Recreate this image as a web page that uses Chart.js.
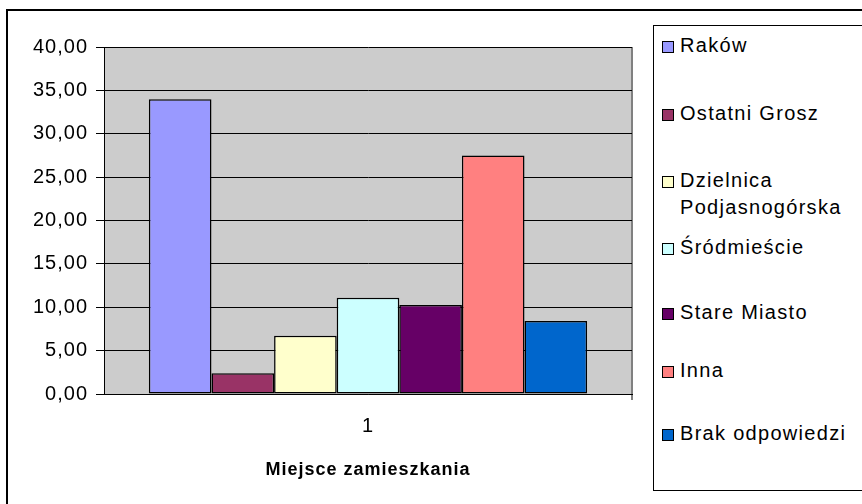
<!DOCTYPE html>
<html>
<head>
<meta charset="utf-8">
<script src="https://cdn.jsdelivr.net/npm/chart.js@4.4.1/dist/chart.umd.min.js"></script>
<style>
  html, body { margin:0; padding:0; background:#fff; }
  body { width:862px; height:504px; position:relative; overflow:hidden; font-family:"Liberation Sans", Arial, sans-serif; }
  #frame { position:absolute; left:6px; top:9px; width:900px; height:520px; border:2px solid #000; box-sizing:border-box; }
  #wrap { position:absolute; left:0; top:0; width:862px; height:504px; }
  #legend { position:absolute; left:653px; top:25px; width:240px; height:466px; border:1px solid #000; box-sizing:border-box; background:#fff; }
  .item { position:absolute; left:8px; font-size:20px; line-height:27px; letter-spacing:1.3px; color:#000; white-space:nowrap; }
  .sw { position:absolute; left:0; top:9px; width:10px; height:10px; border:1px solid #000; }
  .txt { position:absolute; left:18px; top:0; }
</style>
</head>
<body>
<div id="frame"></div>
<div id="wrap"><canvas id="c" width="862" height="504"></canvas></div>
<div id="legend"></div>
<script>
// Data
const categories = ["1"];
const seriesNames = ["Raków", "Ostatni Grosz", "Dzielnica Podjasnogórska", "Śródmieście", "Stare Miasto", "Inna", "Brak odpowiedzi"];
const legendLines = [["Raków"], ["Ostatni Grosz"], ["Dzielnica", "Podjasnogórska"], ["Śródmieście"], ["Stare Miasto"], ["Inna"], ["Brak odpowiedzi"]];
const seriesValues = [33.97, 2.39, 6.72, 11.10, 10.26, 27.50, 8.41];
const seriesColors = ["#9999FF", "#993366", "#FFFFCC", "#CCFFFF", "#660066", "#FF8080", "#0066CC"];
const yTicks = [0, 5, 10, 15, 20, 25, 30, 35, 40];
const xTitle = "Miejsce zamieszkania";

const FONT = "'Liberation Sans', Arial, sans-serif";

const datasets = seriesNames.map((n, i) => ({
  label: n,
  data: [seriesValues[i]],
  backgroundColor: seriesColors[i],
  borderColor: "#000",
  borderWidth: 1.5,
  borderSkipped: false,
  categoryPercentage: 0.83,
  barPercentage: 1.0
}));

const spacing = {
  id: "spacing",
  beforeUpdate(chart) { chart.ctx.letterSpacing = "1px"; },
  beforeLayout(chart) { chart.ctx.letterSpacing = "1px"; },
  beforeDraw(chart) { chart.ctx.letterSpacing = "1px"; }
};

const plotBg = {
  id: "plotBg",
  beforeDraw(chart) {
    const { ctx, chartArea: a } = chart;
    ctx.save();
    ctx.fillStyle = "#CCCCCC";
    ctx.fillRect(a.left, a.top, a.right - a.left, a.bottom - a.top);
    ctx.strokeStyle = "#808080";
    ctx.lineWidth = 2;
    ctx.beginPath();
    ctx.moveTo(a.right, a.top);
    ctx.lineTo(a.right, a.bottom + 6);
    ctx.stroke();
    ctx.restore();
  }
};

new Chart(document.getElementById("c"), {
  type: "bar",
  data: { labels: categories, datasets },
  options: {
    responsive: false,
    animation: false,
    layout: { padding: { top: 47, right: 230, left: 0, bottom: 0 } },
    plugins: { legend: { display: false }, tooltip: { enabled: false }, title: { display: false } },
    scales: {
      x: {
        grid: { display: false, drawTicks: false },
        border: { display: true, color: "#000", width: 1 },
        ticks: { color: "#000", font: { family: FONT, size: 20 }, padding: 20 },
        title: { display: true, text: xTitle, color: "#000", font: { family: FONT, size: 18, weight: "bold" }, padding: { top: 14, bottom: 23 } },
        afterFit(s) { s.height = 110; }
      },
      y: {
        min: 0, max: 40,
        afterBuildTicks(s) { s.ticks = yTicks.map(v => ({ value: v })); },
        grid: { color: "#000", lineWidth: 1, tickLength: 8, tickColor: "#000" },
        border: { display: true, color: "#000", width: 1 },
        ticks: {
          color: "#000", font: { family: FONT, size: 20 }, padding: 8,
          callback: v => v.toFixed(2).replace(".", ",")
        },
        afterFit(s) { s.width = 104; }
      }
    }
  },
  plugins: [spacing, plotBg]
});

// HTML legend
const legendTops = [6, 74, 141, 208, 273, 331, 394];
const lg = document.getElementById("legend");
legendLines.forEach((lines, i) => {
  const d = document.createElement("div");
  d.className = "item";
  d.style.top = legendTops[i] + "px";
  const sw = document.createElement("div");
  sw.className = "sw";
  sw.style.background = seriesColors[i];
  const t = document.createElement("div");
  t.className = "txt";
  t.innerHTML = lines.join("<br>");
  d.appendChild(sw); d.appendChild(t);
  lg.appendChild(d);
});
</script>
</body>
</html>
